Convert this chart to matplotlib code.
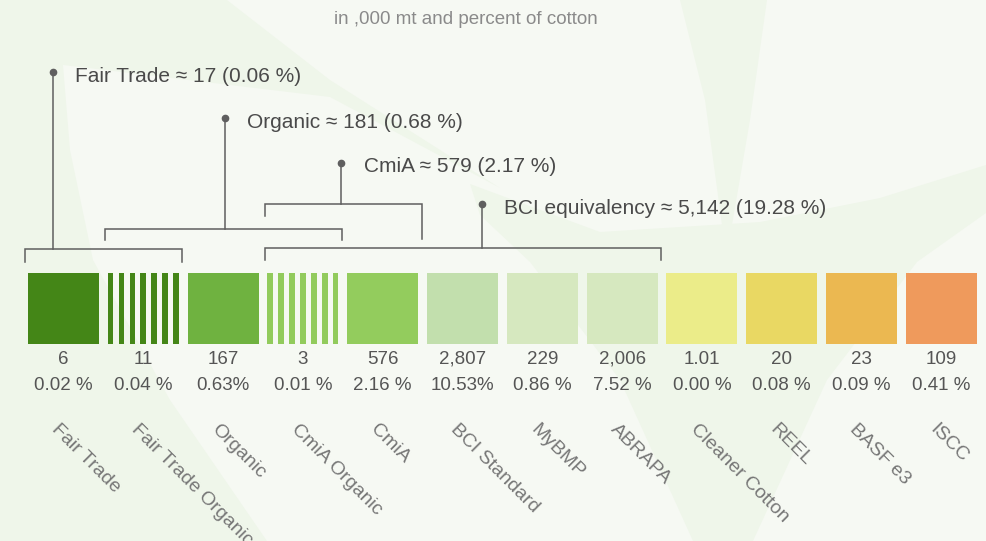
import numpy as np
import matplotlib
matplotlib.use("Agg")
import matplotlib.pyplot as plt

plt.rcParams['font.family'] = ['Liberation Sans', 'DejaVu Sans']

# data
categories = ["Fair Trade", "Fair Trade Organic", "Organic", "CmiA Organic", "CmiA",
              "BCI Standard", "MyBMP", "ABRAPA", "Cleaner Cotton", "REEL", "BASF e3", "ISCC"]
volumes = [6, 11, 167, 3, 576, 2807, 229, 2006, 1.01, 20, 23, 109]
shares = ["0.02 %", "0.04 %", "0.63%", "0.01 %", "2.16 %", "10.53%",
          "0.86 %", "7.52 %", "0.00 %", "0.08 %", "0.09 %", "0.41 %"]
colors = ["#448617", "#448617", "#6fb240", "#92cb5c", "#93cc5d", "#c2dfad",
          "#d6e8bf", "#d6e8bf", "#ebec89", "#e9d863", "#ebb851", "#ef9a5c"]
striped = [False, True, False, True, False, False, False, False, False, False, False, False]

# grouped standards: name, total, share, first bar, last bar
group_names = ["Fair Trade", "Organic", "CmiA", "BCI equivalency"]
group_totals = ["17", "181", "579", "5,142"]
group_shares = ["0.06", "0.68", "2.17", "19.28"]
group_first = [0, 1, 3, 3]
group_last = [1, 3, 4, 7]

# layout (x in bar units, y in pixels from top)
stem_x = [-0.13, 2.02, 3.48, 5.24]
dot_y = [72, 118, 163, 204]
bracket_y = [249, 229, 204, 248]
tick_left = [262, 240, 216, 260]
tick_right = [262, 240, 239, 260]

BG = "#f6f9f3"
PATCH = "#eff6ea"
LINE = "#5f5f5f"

fig = plt.figure(figsize=(9.86, 5.41), dpi=100, facecolor=BG)
ax = fig.add_axes([0, 0, 1, 1])
ax.set_facecolor(BG)
x0 = -63.5 / 79.8
ax.set_xlim(x0, x0 + 986 / 79.8)
ax.set_ylim(541, 0)
ax.axis("off")

# soft background leaves, drawn in pixel space
def px(xs):
    return [x0 + x / 79.8 for x in xs]

lx = [0, 227, 330, 500, 330, 63, 70, 93, 170, 267, 0]
ly = [0, 0, 80, 188, 97, 65, 150, 260, 400, 541, 541]
ax.fill(px(lx), ly, color=PATCH, lw=0, zorder=0)
vx = [470, 600, 760, 880, 986, 986, 917, 827, 753, 693, 620, 530, 480]
vy = [184, 232, 222, 198, 165, 213, 262, 380, 541, 541, 380, 262, 215]
ax.fill(px(vx), vy, color=PATCH, lw=0, zorder=0)
cx = [680, 767, 750, 732, 722, 705]
cy = [0, 0, 120, 225, 225, 100]
ax.fill(px(cx), cy, color=PATCH, lw=0, zorder=0)

ax.text(px([466])[0], 19, "in ,000 mt and percent of cotton", ha="center", va="center",
        fontsize=13.5, color="#8a8a8a")

# squares
w = 0.89
idx = np.arange(len(categories))
solid = [i for i in idx if not striped[i]]
ax.bar(solid, 71, bottom=273, width=w, color=[colors[i] for i in solid], zorder=2)
s = 0.0714
g = (w - 7 * s) / 6
for i in idx:
    if striped[i]:
        xs = i - w / 2 + s / 2 + np.arange(7) * (s + g)
        ax.bar(xs, 71, bottom=273, width=s, color=colors[i], zorder=2)

for i in idx:
    ax.text(i, 359, f"{volumes[i]:,}", ha="center", va="center", fontsize=13.5, color="#555555")
    ax.text(i, 386, shares[i], ha="center", va="center", fontsize=13.5, color="#555555")
    ax.text(i - 0.04, 421, categories[i], rotation=-45, rotation_mode="anchor",
            ha="left", va="top", fontsize=14, color="#777777")

# brackets and callouts
for k in range(len(group_names)):
    l = group_first[k] - 0.48
    r = group_last[k] + 0.49
    yb = bracket_y[k]
    ax.plot([l, l, r, r], [tick_left[k], yb, yb, tick_right[k]], color=LINE, lw=1.1,
            solid_joinstyle="miter", zorder=3)
    ax.plot([stem_x[k], stem_x[k]], [dot_y[k], yb], color=LINE, lw=1.1, zorder=3)
    ax.plot(stem_x[k], dot_y[k], "o", color=LINE, ms=4.5, zorder=3)
    ax.text(stem_x[k] + 0.28, dot_y[k] + 4,
            f"{group_names[k]} \u2248 {group_totals[k]} ({group_shares[k]} %)",
            ha="left", va="center", fontsize=15, color="#4a4a4a")

fig.savefig("out.png", dpi=100, facecolor=BG)
